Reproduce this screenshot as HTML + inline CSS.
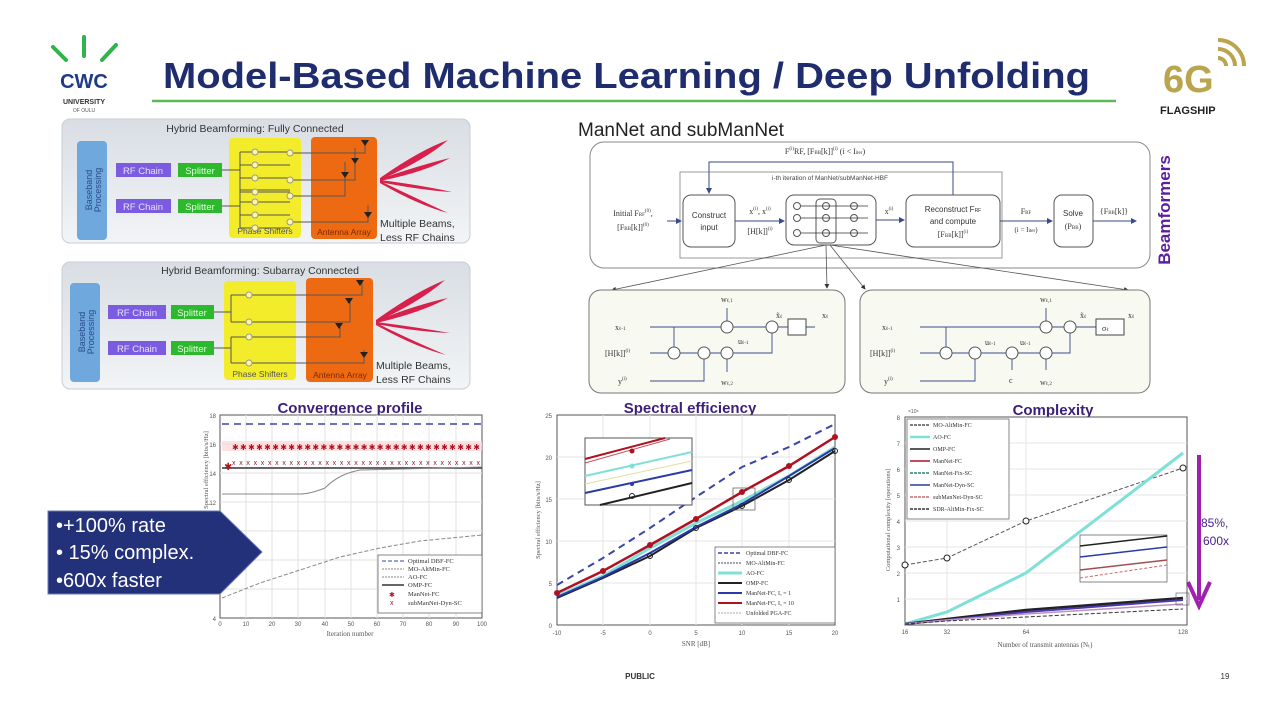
<!DOCTYPE html>
<html><head><meta charset="utf-8"><style>
html,body{margin:0;padding:0;background:#fff;}
svg{display:block;font-family:"Liberation Sans",sans-serif;}
.s{font-family:"Liberation Serif",serif;}
</style></head><body>
<svg width="1280" height="720" viewBox="0 0 1280 720" xmlns="http://www.w3.org/2000/svg">
<defs>
<linearGradient id="pg" x1="0" y1="0" x2="0" y2="1"><stop offset="0" stop-color="#d9dee4"/><stop offset="1" stop-color="#f2f4f6"/></linearGradient>
<marker id="ar" markerWidth="6" markerHeight="6" refX="5" refY="3" orient="auto"><path d="M0,0 L6,3 L0,6z" fill="#333"/></marker>
<marker id="arb" markerWidth="6" markerHeight="6" refX="5" refY="3" orient="auto"><path d="M0,0 L6,3 L0,6z" fill="#3a4a8a"/></marker>
</defs>

<!-- CWC logo -->
<g stroke="#2fb34a" stroke-width="4" stroke-linecap="round">
<line x1="53" y1="47" x2="66" y2="60"/><line x1="84" y1="37" x2="84" y2="56"/><line x1="116" y1="45" x2="102" y2="60"/>
</g>
<text x="84" y="88" font-size="20" font-weight="bold" fill="#1e3a8a" text-anchor="middle">CWC</text>
<text x="84" y="104" font-size="7" font-weight="bold" fill="#333" text-anchor="middle">UNIVERSITY</text>
<text x="84" y="112" font-size="5" fill="#555" text-anchor="middle">OF OULU</text>

<!-- Title -->
<text x="163" y="88" font-size="36" font-weight="bold" fill="#1f2d6e" textLength="927" lengthAdjust="spacingAndGlyphs">Model-Based Machine Learning / Deep Unfolding</text>
<line x1="152" y1="101" x2="1116" y2="101" stroke="#5fb85a" stroke-width="2.5"/>

<!-- 6G logo -->
<text x="1163" y="92" font-size="38" font-weight="bold" fill="#b9a54e">6G</text>
<g fill="none" stroke="#b9a54e" stroke-width="4">
<path d="M1218,58 a8,8 0 0 1 8,8"/><path d="M1218,49 a17,17 0 0 1 17,17"/><path d="M1218,40 a26,26 0 0 1 26,26"/>
</g>
<text x="1160" y="114" font-size="11" font-weight="bold" fill="#222">FLAGSHIP</text>

<!-- Panel 1 -->
<rect x="62" y="119" width="408" height="124" rx="8" fill="url(#pg)" stroke="#c8cdd3"/>
<text x="255" y="132" font-size="10.5" fill="#333" text-anchor="middle">Hybrid Beamforming: Fully Connected</text>
<rect x="77" y="141" width="30" height="99" rx="4" fill="#6fa8dc"/>
<text transform="translate(92,190) rotate(-90)" font-size="9" fill="#2a4a8a" text-anchor="middle">Baseband</text>
<text transform="translate(101,190) rotate(-90)" font-size="9" fill="#2a4a8a" text-anchor="middle">Processing</text>
<rect x="116" y="163" width="55" height="14" fill="#7b5ce0"/><text x="143" y="174" font-size="9.5" fill="#e6e0ff" text-anchor="middle">RF Chain</text>
<rect x="116" y="199" width="55" height="14" fill="#7b5ce0"/><text x="143" y="210" font-size="9.5" fill="#e6e0ff" text-anchor="middle">RF Chain</text>
<rect x="178" y="163" width="44" height="14" fill="#2db82d"/><text x="200" y="174" font-size="9.5" fill="#dfffdf" text-anchor="middle">Splitter</text>
<rect x="178" y="199" width="44" height="14" fill="#2db82d"/><text x="200" y="210" font-size="9.5" fill="#dfffdf" text-anchor="middle">Splitter</text>
<rect x="229" y="138" width="72" height="100" rx="4" fill="#f2ec2a"/>
<text x="265" y="234" font-size="8.5" fill="#555" text-anchor="middle">Phase Shifters</text>
<rect x="311" y="137" width="66" height="102" rx="4" fill="#ee6a12"/>
<text x="344" y="235" font-size="8.5" fill="#7a2a00" text-anchor="middle">Antenna Array</text>
<g stroke="#555" stroke-width="1" fill="none">
<path d="M222,170 H240 M240,152 V192 M240,152 H290 M240,165 H290 M240,178 H290 M240,192 H290"/>
<path d="M222,206 H240 M240,190 V228 M240,190 H290 M240,202 H290 M240,215 H290 M240,228 H290"/>
<path d="M290,153 H365 V140 M290,180 H355 V148 M290,196 H345 V162 M290,222 H368 V205"/>
</g>
<g fill="#fff8a0" stroke="#999"><circle cx="255" cy="152" r="3"/><circle cx="255" cy="165" r="3"/><circle cx="255" cy="178" r="3"/><circle cx="255" cy="192" r="3"/><circle cx="255" cy="202" r="3"/><circle cx="255" cy="215" r="3"/><circle cx="255" cy="228" r="3"/><circle cx="290" cy="153" r="3"/><circle cx="290" cy="180" r="3"/><circle cx="290" cy="196" r="3"/><circle cx="290" cy="222" r="3"/></g>
<g fill="#222"><path d="M361,140 h8 l-4,6z"/><path d="M351,158 h8 l-4,6z"/><path d="M341,172 h8 l-4,6z"/><path d="M364,212 h8 l-4,6z"/></g>
<g fill="#d8204a">
<path d="M380,178 Q420,150 448,140 Q425,160 380,180z"/><path d="M380,179 Q420,165 450,158 Q425,172 380,181z"/><path d="M380,180 Q420,185 452,192 Q420,190 380,182z"/><path d="M380,181 Q420,200 448,213 Q418,205 380,183z"/>
</g>
<text x="380" y="227" font-size="10.5" fill="#333">Multiple Beams,</text>
<text x="380" y="241" font-size="10.5" fill="#333">Less RF Chains</text>

<!-- Panel 2 -->
<rect x="62" y="262" width="408" height="127" rx="8" fill="url(#pg)" stroke="#c8cdd3"/>
<text x="260" y="274" font-size="10.5" fill="#333" text-anchor="middle">Hybrid Beamforming: Subarray Connected</text>
<rect x="70" y="283" width="30" height="99" rx="4" fill="#6fa8dc"/>
<text transform="translate(85,332) rotate(-90)" font-size="9" fill="#2a4a8a" text-anchor="middle">Baseband</text>
<text transform="translate(94,332) rotate(-90)" font-size="9" fill="#2a4a8a" text-anchor="middle">Processing</text>
<rect x="108" y="305" width="58" height="14" fill="#7b5ce0"/><text x="137" y="316" font-size="9.5" fill="#e6e0ff" text-anchor="middle">RF Chain</text>
<rect x="108" y="341" width="58" height="14" fill="#7b5ce0"/><text x="137" y="352" font-size="9.5" fill="#e6e0ff" text-anchor="middle">RF Chain</text>
<rect x="171" y="305" width="43" height="14" fill="#2db82d"/><text x="192" y="316" font-size="9.5" fill="#dfffdf" text-anchor="middle">Splitter</text>
<rect x="171" y="341" width="43" height="14" fill="#2db82d"/><text x="192" y="352" font-size="9.5" fill="#dfffdf" text-anchor="middle">Splitter</text>
<rect x="224" y="281" width="72" height="99" rx="4" fill="#f2ec2a"/>
<text x="260" y="377" font-size="8.5" fill="#555" text-anchor="middle">Phase Shifters</text>
<rect x="306" y="278" width="67" height="104" rx="4" fill="#ee6a12"/>
<text x="340" y="378" font-size="8.5" fill="#7a2a00" text-anchor="middle">Antenna Array</text>
<g stroke="#555" stroke-width="1" fill="none">
<path d="M214,312 H231 M231,295 V322 M231,295 H362 V282 M231,322 H350 V300"/>
<path d="M214,348 H231 M231,337 V363 M231,337 H340 V325 M231,363 H364 V350"/>
</g>
<g fill="#fff8a0" stroke="#999"><circle cx="249" cy="295" r="3"/><circle cx="249" cy="322" r="3"/><circle cx="249" cy="337" r="3"/><circle cx="249" cy="363" r="3"/></g>
<g fill="#222"><path d="M356,280 h8 l-4,6z"/><path d="M345,298 h8 l-4,6z"/><path d="M335,323 h8 l-4,6z"/><path d="M360,352 h8 l-4,6z"/></g>
<g fill="#d8204a">
<path d="M376,320 Q415,292 445,280 Q420,302 376,322z"/><path d="M376,321 Q415,305 448,298 Q420,313 376,323z"/><path d="M376,322 Q415,327 450,333 Q418,332 376,324z"/><path d="M376,323 Q415,342 446,355 Q415,347 376,325z"/>
</g>
<text x="376" y="369" font-size="10.5" fill="#333">Multiple Beams,</text>
<text x="376" y="383" font-size="10.5" fill="#333">Less RF Chains</text>

<!-- ManNet diagram -->
<text x="578" y="136" font-size="19" fill="#222">ManNet and subManNet</text>
<rect x="590" y="142" width="560" height="126" rx="14" fill="#fff" stroke="#888"/>
<rect x="680" y="172" width="322" height="86" fill="#fff" stroke="#999"/>
<text x="830" y="180" font-size="6.5" fill="#444" text-anchor="middle">i-th iteration of ManNet/subManNet-HBF</text>
<text x="825" y="154" font-size="8" fill="#333" text-anchor="middle" class="s">F<tspan font-size="5" dy="-4">(i)</tspan><tspan dy="4">RF, [F</tspan><tspan font-size="5">BB</tspan>[k]]<tspan font-size="5" dy="-4">(i)</tspan><tspan dy="4"> (i &lt; I</tspan><tspan font-size="5">iter</tspan>)</text>
<path d="M953,195 V162 H709 V193" stroke="#3a4a8a" fill="none" marker-end="url(#arb)"/>
<text x="633" y="216" font-size="8" fill="#333" text-anchor="middle" class="s">Initial F<tspan font-size="5">RF</tspan><tspan font-size="5" dy="-4">(0)</tspan><tspan dy="4">,</tspan></text>
<text x="633" y="230" font-size="8" fill="#333" text-anchor="middle" class="s">[F<tspan font-size="5">BB</tspan>[k]]<tspan font-size="5" dy="-4">(0)</tspan></text>
<line x1="667" y1="221" x2="681" y2="221" stroke="#3a4a8a" marker-end="url(#arb)"/>
<rect x="683" y="195" width="52" height="52" rx="8" fill="#fff" stroke="#555"/>
<text x="709" y="218" font-size="8" fill="#333" text-anchor="middle">Construct</text>
<text x="709" y="230" font-size="8" fill="#333" text-anchor="middle">input</text>
<line x1="735" y1="221" x2="784" y2="221" stroke="#3a4a8a" marker-end="url(#arb)"/>
<text x="760" y="214" font-size="8" fill="#333" text-anchor="middle" class="s">x<tspan font-size="5" dy="-4">(i)</tspan><tspan dy="4">, x</tspan><tspan font-size="5" dy="-4">(i)</tspan></text>
<text x="760" y="234" font-size="8" fill="#333" text-anchor="middle" class="s">[H[k]]<tspan font-size="5" dy="-4">(i)</tspan></text>
<rect x="786" y="195" width="90" height="50" rx="8" fill="#fff" stroke="#555"/>
<rect x="816" y="199" width="20" height="44" rx="4" fill="none" stroke="#555"/>
<g fill="#fff" stroke="#555"><circle cx="797" cy="206" r="3.5"/><circle cx="797" cy="218" r="3.5"/><circle cx="797" cy="233" r="3.5"/><circle cx="826" cy="206" r="3.5"/><circle cx="826" cy="218" r="3.5"/><circle cx="826" cy="233" r="3.5"/><circle cx="854" cy="206" r="3.5"/><circle cx="854" cy="218" r="3.5"/><circle cx="854" cy="233" r="3.5"/></g>
<g stroke="#333" stroke-width="0.8"><line x1="801" y1="206" x2="868" y2="206"/><line x1="801" y1="218" x2="868" y2="218"/><line x1="801" y1="233" x2="868" y2="233"/></g>
<line x1="876" y1="220" x2="904" y2="220" stroke="#3a4a8a" marker-end="url(#arb)"/>
<text x="889" y="214" font-size="8" fill="#333" text-anchor="middle" class="s">x<tspan font-size="5" dy="-4">(i)</tspan></text>
<rect x="906" y="195" width="94" height="52" rx="8" fill="#fff" stroke="#555"/>
<text x="953" y="212" font-size="8" fill="#333" text-anchor="middle">Reconstruct F<tspan font-size="5">RF</tspan></text>
<text x="953" y="224" font-size="8" fill="#333" text-anchor="middle">and compute</text>
<text x="953" y="237" font-size="8" fill="#333" text-anchor="middle" class="s">[F<tspan font-size="5">BB</tspan>[k]]<tspan font-size="5" dy="-4">(i)</tspan></text>
<line x1="1000" y1="221" x2="1052" y2="221" stroke="#3a4a8a" marker-end="url(#arb)"/>
<text x="1026" y="214" font-size="8" fill="#333" text-anchor="middle" class="s">F<tspan font-size="5">RF</tspan></text>
<text x="1026" y="232" font-size="7" fill="#333" text-anchor="middle" class="s">(i = I<tspan font-size="5">iter</tspan>)</text>
<rect x="1054" y="195" width="39" height="52" rx="8" fill="#fff" stroke="#555"/>
<text x="1073" y="216" font-size="8" fill="#333" text-anchor="middle">Solve</text>
<text x="1073" y="229" font-size="8" fill="#333" text-anchor="middle" class="s">(P<tspan font-size="5">BB</tspan>)</text>
<line x1="1093" y1="221" x2="1136" y2="221" stroke="#3a4a8a" marker-end="url(#arb)"/>
<text x="1114" y="214" font-size="8" fill="#333" text-anchor="middle" class="s">{F<tspan font-size="5">BB</tspan>[k]}</text>
<text transform="translate(1170,210) rotate(-90)" font-size="17" font-weight="bold" fill="#5b1f9e" text-anchor="middle">Beamformers</text>
<g stroke="#555" fill="none" stroke-width="0.8">
<path d="M826,245 L612,290" marker-end="url(#ar)"/><path d="M826,245 L827,288" marker-end="url(#ar)"/>
<path d="M830,245 L865,289" marker-end="url(#ar)"/><path d="M830,245 L1128,290" marker-end="url(#ar)"/>
</g>

<!-- lower panels -->
<rect x="589" y="290" width="256" height="103" rx="12" fill="#f8f9f1" stroke="#777"/>
<rect x="860" y="290" width="290" height="103" rx="12" fill="#f8f9f1" stroke="#777"/>
<g stroke="#3a4a8a" stroke-width="0.9" fill="none">
<path d="M650,327 H815"/><path d="M650,353 H760"/><path d="M650,381 H704 V358"/><path d="M674,327 V348"/>
<path d="M727,308 V322"/><path d="M727,372 V358"/><path d="M760,353 H772 V332"/>
<path d="M920,327 H1120"/><path d="M920,353 H1045"/><path d="M920,381 H975 V358"/><path d="M946,327 V348"/>
<path d="M1046,308 V322"/><path d="M1046,370 V358"/><path d="M1012,370 V358"/><path d="M1050,353 H1070 V332"/>
</g>
<g fill="#fff" stroke="#555"><circle cx="674" cy="353" r="6"/><circle cx="704" cy="353" r="6"/><circle cx="727" cy="327" r="6"/><circle cx="727" cy="353" r="6"/><circle cx="772" cy="327" r="6"/>
<circle cx="946" cy="353" r="6"/><circle cx="975" cy="353" r="6"/><circle cx="1012" cy="353" r="6"/><circle cx="1046" cy="353" r="6"/><circle cx="1046" cy="327" r="6"/><circle cx="1070" cy="327" r="6"/></g>
<rect x="788" y="319" width="18" height="16" fill="#fff" stroke="#444"/>
<rect x="1096" y="319" width="28" height="16" fill="#fff" stroke="#444"/>
<g font-size="8" fill="#333" class="s">
<text x="615" y="330">x<tspan font-size="5">ℓ-1</tspan></text><text x="605" y="356">[H[k]]<tspan font-size="5" dy="-4">(i)</tspan></text><text x="618" y="384">y<tspan font-size="5" dy="-4">(i)</tspan></text>
<text x="721" y="302">w<tspan font-size="5">ℓ,1</tspan></text><text x="721" y="385">w<tspan font-size="5">ℓ,2</tspan></text>
<text x="776" y="318">x̃<tspan font-size="5">ℓ</tspan></text><text x="822" y="318">x<tspan font-size="5">ℓ</tspan></text><text x="738" y="344">u<tspan font-size="5">ℓ-1</tspan></text>
<text x="882" y="330">x<tspan font-size="5">ℓ-1</tspan></text><text x="870" y="356">[H[k]]<tspan font-size="5" dy="-4">(i)</tspan></text><text x="884" y="384">y<tspan font-size="5" dy="-4">(i)</tspan></text>
<text x="1040" y="302">w<tspan font-size="5">ℓ,1</tspan></text><text x="1040" y="385">w<tspan font-size="5">ℓ,2</tspan></text><text x="1009" y="383">c</text>
<text x="1080" y="318">x̃<tspan font-size="5">ℓ</tspan></text><text x="1128" y="318">x<tspan font-size="5">ℓ</tspan></text><text x="1102" y="331">σ<tspan font-size="5">ℓ</tspan></text>
<text x="985" y="345">u<tspan font-size="5">ℓ-1</tspan></text><text x="1020" y="345">u<tspan font-size="5">ℓ-1</tspan></text>
</g>

<!-- Convergence chart -->
<text x="350" y="413" font-size="15" font-weight="bold" fill="#3b1f7a" text-anchor="middle">Convergence profile</text>
<rect x="220" y="415" width="262" height="203" fill="#fff" stroke="#555"/>
<g stroke="#e2e2e2"><line x1="220" y1="444" x2="482" y2="444"/><line x1="220" y1="473" x2="482" y2="473"/><line x1="220" y1="502" x2="482" y2="502"/><line x1="220" y1="531" x2="482" y2="531"/><line x1="220" y1="560" x2="482" y2="560"/><line x1="220" y1="589" x2="482" y2="589"/>
<line x1="246" y1="415" x2="246" y2="618"/><line x1="272" y1="415" x2="272" y2="618"/><line x1="298" y1="415" x2="298" y2="618"/><line x1="325" y1="415" x2="325" y2="618"/><line x1="351" y1="415" x2="351" y2="618"/><line x1="377" y1="415" x2="377" y2="618"/><line x1="403" y1="415" x2="403" y2="618"/><line x1="429" y1="415" x2="429" y2="618"/><line x1="456" y1="415" x2="456" y2="618"/></g>
<line x1="222" y1="424" x2="482" y2="424" stroke="#3846a6" stroke-width="1.6" stroke-dasharray="7,5"/>
<path d="M222,468 H482" stroke="#333" stroke-width="1.5"/>
<path d="M222,494 H300 C310,494 320,490 325,488 C335,478 345,473 360,470 L482,467" stroke="#888" fill="none"/>
<path d="M222,598 L260,583 L300,570 L340,557 L380,548 L420,541 L482,535" stroke="#888" fill="none" stroke-dasharray="4,2"/>
<rect x="222" y="441" width="260" height="10" fill="#ffd6d6" opacity="0.7"/>
<text x="224" y="470" font-size="10" fill="#b01020">✱</text>
<text x="232" y="450" font-size="8" fill="#b01020" textLength="248" lengthAdjust="spacing">✱✱✱✱✱✱✱✱✱✱✱✱✱✱✱✱✱✱✱✱✱✱✱✱✱✱✱✱✱✱✱</text>
<text x="232" y="465" font-size="7" fill="#8a2030" textLength="248" lengthAdjust="spacing">xxxxxxxxxxxxxxxxxxxxxxxxxxxxxxxxxxx</text>
<rect x="378" y="555" width="104" height="58" fill="#fff" stroke="#555" stroke-width="0.7"/>
<g font-size="6.5" fill="#333" class="s"><text x="408" y="563">Optimal DBF-FC</text><text x="408" y="571">MO-AltMin-FC</text><text x="408" y="579">AO-FC</text><text x="408" y="587">OMP-FC</text><text x="408" y="596">ManNet-FC</text><text x="408" y="605">subManNet-Dyn-SC</text></g>
<line x1="382" y1="561" x2="404" y2="561" stroke="#3846a6" stroke-dasharray="4,2"/><line x1="382" y1="569" x2="404" y2="569" stroke="#888" stroke-dasharray="2,1"/><line x1="382" y1="577" x2="404" y2="577" stroke="#888" stroke-dasharray="2,1"/><line x1="382" y1="585" x2="404" y2="585" stroke="#333" stroke-width="1.5"/>
<text x="389" y="597" font-size="7" fill="#b01020">✱</text><text x="390" y="605" font-size="7" fill="#8a2030">x</text>
<g font-size="6" fill="#555" text-anchor="end"><text x="216" y="418">18</text><text x="216" y="447">16</text><text x="216" y="476">14</text><text x="216" y="505">12</text><text x="216" y="621">4</text></g>
<g font-size="6" fill="#555" text-anchor="middle"><text x="220" y="626">0</text><text x="246" y="626">10</text><text x="272" y="626">20</text><text x="298" y="626">30</text><text x="325" y="626">40</text><text x="351" y="626">50</text><text x="377" y="626">60</text><text x="403" y="626">70</text><text x="429" y="626">80</text><text x="456" y="626">90</text><text x="482" y="626">100</text></g>
<text x="350" y="636" font-size="7" fill="#555" text-anchor="middle" class="s">Iteration number</text>
<text transform="translate(208,470) rotate(-90)" font-size="6.5" fill="#555" text-anchor="middle" class="s">Spectral efficiency [bits/s/Hz]</text>

<!-- Blue callout -->
<path d="M48,511 H220 L262,552 L220,594 H48 Z" fill="#23307a" stroke="#6a78b8" stroke-width="1"/>
<g font-size="20" fill="#fff"><text x="56" y="532">•+100% rate</text><text x="56" y="559">• 15% complex.</text><text x="56" y="587">•600x faster</text></g>

<!-- Spectral efficiency -->
<text x="690" y="413" font-size="15" font-weight="bold" fill="#3b1f7a" text-anchor="middle">Spectral efficiency</text>
<rect x="557" y="415" width="278" height="210" fill="#fff" stroke="#555"/>
<g stroke="#e6e6e6"><line x1="557" y1="457" x2="835" y2="457"/><line x1="557" y1="499" x2="835" y2="499"/><line x1="557" y1="541" x2="835" y2="541"/><line x1="557" y1="583" x2="835" y2="583"/><line x1="603" y1="415" x2="603" y2="625"/><line x1="650" y1="415" x2="650" y2="625"/><line x1="696" y1="415" x2="696" y2="625"/><line x1="742" y1="415" x2="742" y2="625"/><line x1="789" y1="415" x2="789" y2="625"/></g>
<polyline points="557,585 603,558 650,528 696,497 742,467 789,447 835,424" fill="none" stroke="#3846a6" stroke-width="2" stroke-dasharray="7,5"/>
<polyline points="557,596 603,576 650,548 696,523 742,501 789,476 835,447" fill="none" stroke="#7fe0d8" stroke-width="3"/>
<polyline points="557,598 603,578 650,556 696,528 742,506 789,480 835,451" fill="none" stroke="#222" stroke-width="2"/>
<polyline points="557,597 603,577 650,553 696,527 742,504 789,476 835,448" fill="none" stroke="#2a3aa8" stroke-width="2"/>
<polyline points="557,593 603,571 650,545 696,519 742,492 789,466 835,437" fill="none" stroke="#b01020" stroke-width="2.5"/>
<g fill="#b01020"><circle cx="557" cy="593" r="3"/><circle cx="603" cy="571" r="3"/><circle cx="650" cy="545" r="3"/><circle cx="696" cy="519" r="3"/><circle cx="742" cy="492" r="3"/><circle cx="789" cy="466" r="3"/><circle cx="835" cy="437" r="3"/></g>
<g fill="none" stroke="#222"><circle cx="650" cy="556" r="2.5"/><circle cx="696" cy="528" r="2.5"/><circle cx="742" cy="506" r="2.5"/><circle cx="789" cy="480" r="2.5"/><circle cx="835" cy="451" r="2.5"/></g>
<rect x="733" y="488" width="22" height="22" fill="none" stroke="#555" stroke-width="0.7"/>
<rect x="585" y="438" width="107" height="67" fill="#fff" stroke="#555"/>
<line x1="585" y1="459" x2="665" y2="438" stroke="#b01020" stroke-width="2"/><line x1="585" y1="463" x2="670" y2="439" stroke="#c05060" stroke-width="1"/>
<line x1="585" y1="476" x2="692" y2="452" stroke="#7fe0d8" stroke-width="2"/><line x1="585" y1="484" x2="692" y2="461" stroke="#dde0a0" stroke-width="1"/>
<line x1="585" y1="493" x2="692" y2="470" stroke="#2a3aa8" stroke-width="2"/><line x1="600" y1="505" x2="692" y2="483" stroke="#222" stroke-width="2"/>
<circle cx="632" cy="451" r="2.5" fill="#b01020"/><circle cx="632" cy="466" r="2.5" fill="#7fe0d8"/><circle cx="632" cy="484" r="2" fill="#2a3aa8"/><circle cx="632" cy="496" r="2.5" fill="none" stroke="#222"/>
<rect x="715" y="547" width="120" height="76" fill="#fff" stroke="#555" stroke-width="0.7"/>
<g font-size="6" fill="#333" class="s"><text x="746" y="555">Optimal DBF-FC</text><text x="746" y="565">MO-AltMin-FC</text><text x="746" y="575">AO-FC</text><text x="746" y="585">OMP-FC</text><text x="746" y="595">ManNet-FC, Iₐ = 1</text><text x="746" y="605">ManNet-FC, Iₐ = 10</text><text x="746" y="615">Unfolded PGA-FC</text></g>
<line x1="718" y1="553" x2="742" y2="553" stroke="#3846a6" stroke-width="1.5" stroke-dasharray="4,2"/><line x1="718" y1="563" x2="742" y2="563" stroke="#444" stroke-dasharray="2,1"/><line x1="718" y1="573" x2="742" y2="573" stroke="#7fe0d8" stroke-width="3"/><line x1="718" y1="583" x2="742" y2="583" stroke="#222" stroke-width="2"/><line x1="718" y1="593" x2="742" y2="593" stroke="#2a3aa8" stroke-width="2"/><line x1="718" y1="603" x2="742" y2="603" stroke="#b01020" stroke-width="2"/><line x1="718" y1="613" x2="742" y2="613" stroke="#aaa" stroke-dasharray="2,1"/>
<g font-size="6" fill="#555" text-anchor="end"><text x="552" y="418">25</text><text x="552" y="460">20</text><text x="552" y="502">15</text><text x="552" y="544">10</text><text x="552" y="586">5</text><text x="552" y="628">0</text></g>
<g font-size="6" fill="#555" text-anchor="middle"><text x="557" y="635">-10</text><text x="603" y="635">-5</text><text x="650" y="635">0</text><text x="696" y="635">5</text><text x="742" y="635">10</text><text x="789" y="635">15</text><text x="835" y="635">20</text></g>
<text x="696" y="646" font-size="7" fill="#555" text-anchor="middle" class="s">SNR [dB]</text>
<text transform="translate(540,520) rotate(-90)" font-size="6.5" fill="#555" text-anchor="middle" class="s">Spectral efficiency [bits/s/Hz]</text>

<!-- Complexity -->
<text x="1053" y="415" font-size="15" font-weight="bold" fill="#3b1f7a" text-anchor="middle">Complexity</text>
<rect x="905" y="417" width="282" height="208" fill="#fff" stroke="#555"/>
<g stroke="#e6e6e6"><line x1="905" y1="443" x2="1187" y2="443"/><line x1="905" y1="469" x2="1187" y2="469"/><line x1="905" y1="495" x2="1187" y2="495"/><line x1="905" y1="521" x2="1187" y2="521"/><line x1="905" y1="547" x2="1187" y2="547"/><line x1="905" y1="573" x2="1187" y2="573"/><line x1="905" y1="599" x2="1187" y2="599"/><line x1="947" y1="417" x2="947" y2="625"/><line x1="1026" y1="417" x2="1026" y2="625"/></g>
<polyline points="905,565 947,558 1026,521 1183,468" fill="none" stroke="#555" stroke-dasharray="4,2"/>
<g fill="#fff" stroke="#222"><circle cx="905" cy="565" r="3"/><circle cx="947" cy="558" r="3"/><circle cx="1026" cy="521" r="3"/><circle cx="1183" cy="468" r="3"/></g>
<polyline points="905,624 947,612 1026,573 1183,453" fill="none" stroke="#7fe0d8" stroke-width="3"/>
<polyline points="905,624 947,619 1026,610 1183,598" fill="none" stroke="#222" stroke-width="2.5"/>
<polyline points="905,624 947,620 1026,612 1183,600" fill="none" stroke="#4a3ab0" stroke-width="2"/>
<polyline points="905,624 947,620 1026,614 1183,604" fill="none" stroke="#c090c0" stroke-width="1.5"/>
<polyline points="905,624 947,621 1026,617 1183,609" fill="none" stroke="#333" stroke-dasharray="4,2"/>
<rect x="1080" y="535" width="87" height="47" fill="#fff" stroke="#555" stroke-width="0.7"/>
<line x1="1080" y1="546" x2="1167" y2="536" stroke="#222" stroke-width="1.5"/><line x1="1080" y1="557" x2="1167" y2="547" stroke="#2a3aa8" stroke-width="1.5"/><line x1="1080" y1="570" x2="1167" y2="560" stroke="#a05050" stroke-width="1.5"/><line x1="1080" y1="578" x2="1167" y2="565" stroke="#d06060" stroke-dasharray="3,2"/>
<rect x="1176" y="593" width="13" height="12" fill="none" stroke="#555" stroke-width="0.6"/>
<rect x="907" y="419" width="102" height="100" fill="#fff" stroke="#555" stroke-width="0.7"/>
<g font-size="6" fill="#333" class="s"><text x="933" y="427">MO-AltMin-FC</text><text x="933" y="439">AO-FC</text><text x="933" y="451">OMP-FC</text><text x="933" y="463">ManNet-FC</text><text x="933" y="475">ManNet-Fix-SC</text><text x="933" y="487">ManNet-Dyn-SC</text><text x="933" y="499">subManNet-Dyn-SC</text><text x="933" y="511">SDR-AltMin-Fix-SC</text></g>
<g stroke-width="1.5"><line x1="910" y1="425" x2="930" y2="425" stroke="#555" stroke-dasharray="3,1"/><line x1="910" y1="437" x2="930" y2="437" stroke="#7fe0d8" stroke-width="2.5"/><line x1="910" y1="449" x2="930" y2="449" stroke="#222"/><line x1="910" y1="461" x2="930" y2="461" stroke="#b01020"/><line x1="910" y1="473" x2="930" y2="473" stroke="#2a8080" stroke-dasharray="3,1"/><line x1="910" y1="485" x2="930" y2="485" stroke="#2a3aa8"/><line x1="910" y1="497" x2="930" y2="497" stroke="#c07070" stroke-dasharray="3,1"/><line x1="910" y1="509" x2="930" y2="509" stroke="#333" stroke-dasharray="3,1"/></g>
<g font-size="6" fill="#555" text-anchor="end"><text x="900" y="420">8</text><text x="900" y="446">7</text><text x="900" y="472">6</text><text x="900" y="498">5</text><text x="900" y="524">4</text><text x="900" y="550">3</text><text x="900" y="576">2</text><text x="900" y="602">1</text></g>
<text x="908" y="413" font-size="5" fill="#555">×10⁸</text>
<g font-size="6" fill="#555" text-anchor="middle"><text x="905" y="634">16</text><text x="947" y="634">32</text><text x="1026" y="634">64</text><text x="1183" y="634">128</text></g>
<text x="1045" y="647" font-size="7" fill="#555" text-anchor="middle" class="s">Number of transmit antennas (Nₜ)</text>
<text transform="translate(890,520) rotate(-90)" font-size="6.5" fill="#555" text-anchor="middle" class="s">Computational complexity [operations]</text>
<line x1="1199" y1="455" x2="1199" y2="600" stroke="#a020b0" stroke-width="4"/>
<path d="M1188,582 L1199,606 L1210,582" fill="none" stroke="#a020b0" stroke-width="4"/>
<text x="1201" y="527" font-size="12" fill="#4a2090">85%,</text>
<text x="1203" y="545" font-size="12" fill="#4a2090">600x</text>

<!-- Footer -->
<text x="640" y="679" font-size="8" font-weight="bold" fill="#333" text-anchor="middle">PUBLIC</text>
<text x="1225" y="679" font-size="8" fill="#333" text-anchor="middle">19</text>
</svg>
</body></html>
